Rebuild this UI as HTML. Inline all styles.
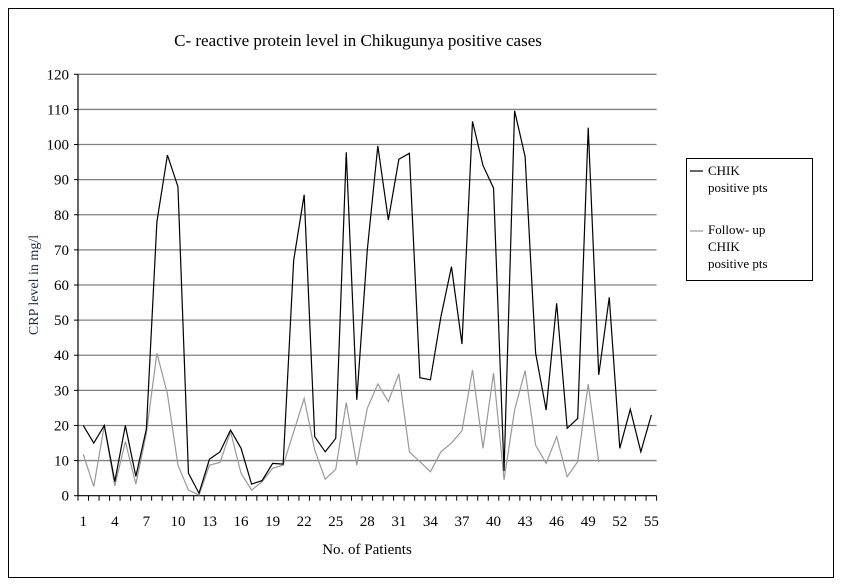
<!DOCTYPE html>
<html><head><meta charset="utf-8"><style>
body{margin:0;background:#fff;}
svg{display:block;font-family:"Liberation Serif",serif;}
</style></head><body>
<svg id="chart" width="842" height="587" viewBox="0 0 842 587" xmlns="http://www.w3.org/2000/svg">
<rect x="8.5" y="8.5" width="825" height="569" fill="#fff" stroke="#000" stroke-width="1"/>
<text x="358" y="46" font-size="17" text-anchor="middle">C- reactive protein level in Chikugunya positive cases</text>
<text transform="translate(38,285) rotate(-90)" font-size="14" text-anchor="middle" fill="#1a2a50">CRP level in mg/l</text>
<text x="367" y="554" font-size="15" text-anchor="middle">No. of Patients</text>
<g id="grid"></g><g id="axes"></g><g id="series"></g>
<g>
<rect x="686.5" y="158.5" width="126" height="122" fill="#fff" stroke="#000"/>
<line x1="690" y1="171" x2="703" y2="171" stroke="#000" stroke-width="1.2"/>
<text x="708" y="175" font-size="13">CHIK</text>
<text x="708" y="192" font-size="13">positive pts</text>
<line x1="690" y1="231" x2="703" y2="231" stroke="#999" stroke-width="1.2"/>
<text x="708" y="234" font-size="13">Follow- up</text>
<text x="708" y="251" font-size="13">CHIK</text>
<text x="708" y="268" font-size="13">positive pts</text>
</g>
</svg>
<script>
const patients=[];for(let i=1;i<=55;i++)patients.push(i);
const chikPositive=[20,15,20,4,20,5.5,19,78,97,88,6.4,0.7,10.4,12.5,18.7,13.5,3.3,4.3,9.2,9,67,85.7,16.8,12.5,16.3,97.8,27.3,70,99.6,78.5,95.8,97.5,33.6,33,51,65.2,43.2,106.6,94,87.6,7,109.6,96.6,40.6,24.4,54.8,19.2,22,104.8,34.4,56.5,13.5,24.6,12.5,23];
const followUp=[11.8,2.6,20,2.8,15.4,3.3,17.8,40.6,29,8.7,1.6,0.2,8.7,9.5,18.2,6.4,1.6,4,7.8,8.7,18.2,27.7,13,4.7,7.5,26.5,8.7,24.9,31.8,26.8,34.7,12.5,9.7,6.8,12.5,15,18.5,35.8,13.5,34.9,4.5,24.4,35.6,14.4,9.2,16.8,5.4,9.7,31.8,9.5];
const yTicks=[0,10,20,30,40,50,60,70,80,90,100,110,120];
const xLabels=[1,4,7,10,13,16,19,22,25,28,31,34,37,40,43,46,49,52,55];
const NS="http://www.w3.org/2000/svg";
const X0=78,X1=656.6,Y0=495.7,Y1=74.3,YMAX=120;
const bw=(X1-X0)/patients.length;
const xs=p=>X0+(p-0.5)*bw;
const ys=v=>Y0-(v/YMAX)*(Y0-Y1);
function mk(tag,attrs,parent){const e=document.createElementNS(NS,tag);for(const k in attrs)e.setAttribute(k,attrs[k]);parent.appendChild(e);return e;}
const grid=document.getElementById('grid'),axes=document.getElementById('axes'),series=document.getElementById('series');
yTicks.forEach(t=>{const y=ys(t);
 if(t>0){const g=mk('line',{x1:X0,x2:X1,y1:y,y2:y,stroke:'#808080','stroke-width':1.3},grid);
 
 }
 const tk=mk('line',{x1:X0-4,x2:X0,y1:y,y2:y,stroke:'#000'},axes);
 
 
 const tx=mk('text',{x:X0-9,y:y+5,'font-size':15,'text-anchor':'end'},axes);tx.textContent=t;
 
 
});
const ya=mk('line',{x1:X0,x2:X0,y1:Y1,y2:Y0,stroke:'#000','stroke-width':1.2},axes);


const xa=mk('line',{x1:X0,x2:X1,y1:Y0,y2:Y0,stroke:'#000','stroke-width':1.2},axes);


for(let i=0;i<=patients.length;i++){const x=X0+i*bw;
 const tk=mk('line',{x1:x,x2:x,y1:Y0,y2:Y0+5,stroke:'#000'},axes);
 
 }
xLabels.forEach(p=>{const tx=mk('text',{x:xs(p),y:526,'font-size':15,'text-anchor':'middle'},axes);tx.textContent=p;
 
 });
function line(vals,color,name){const pts=vals.map((v,i)=>xs(patients[i])+','+ys(v)).join(' ');
 const pl=mk('polyline',{points:pts,fill:'none',stroke:color,'stroke-width':1.2,'stroke-linejoin':'miter'},series);
 
 }
line(followUp,'#999','line-followup-chik');
line(chikPositive,'#000','line-chik-positive');
</script>
</body></html>
